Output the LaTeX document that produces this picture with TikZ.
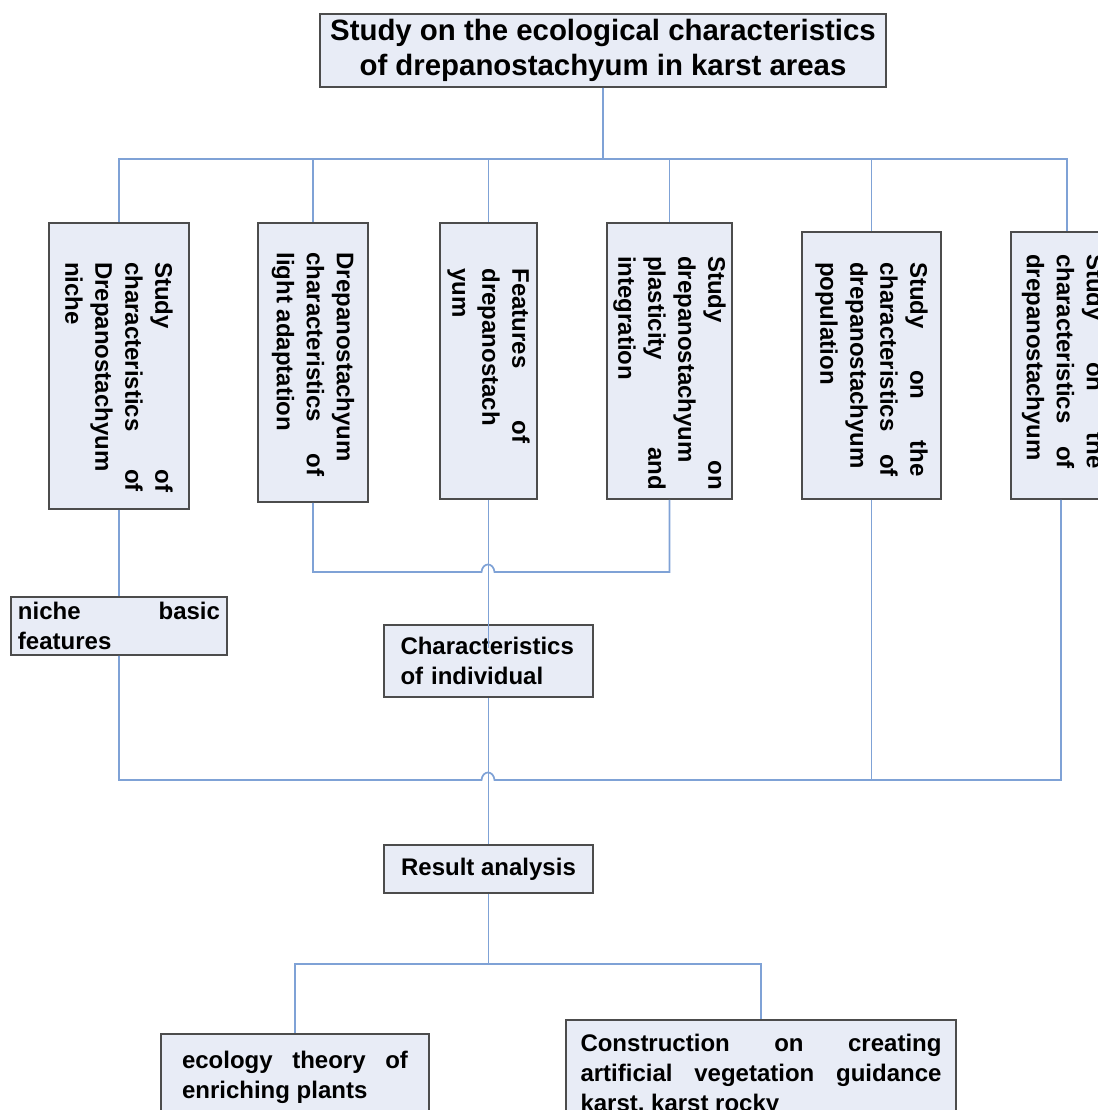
\documentclass[tikz,border=0pt]{standalone}
\usepackage{fontspec}
\setmainfont{Liberation Sans}
\usepackage{graphicx}
\usepackage{xcolor}
\usepackage{tikz}
\usetikzlibrary{positioning}
\definecolor{boxfill}{HTML}{E8ECF6}
\definecolor{linkblue}{HTML}{7FA2D6}
\tolerance=10000 \hbadness=10000 \hyphenpenalty=10000
\newcommand{\vlabel}[3][0pt]{\rotatebox{-90}{\hspace*{#1}\parbox{#2}{#3}}}

\begin{document}
\begin{tikzpicture}[x=0.5pt,y=-0.5pt,
		  box/.style={draw=black!70, line width=0.8pt, fill=boxfill, inner sep=0pt,
		    font=\bfseries\fontsize{12}{15}\selectfont},
		  hbox/.style={box, align=justify, inner xsep=3pt, inner ysep=6pt},
		  link/.style={draw=linkblue, line width=0.85pt}]
		  \useasboundingbox (0,0) rectangle (1098,1110);
		  \clip (0,0) rectangle (1098,1110);
		  \node[box, minimum width=283pt, minimum height=36.5pt, align=center,
		    font=\bfseries\fontsize{14.7}{17.5}\selectfont] (top) at (603,50.5)
		    {Study on the ecological characteristics\\of drepanostachyum in karst areas};
		  \node[box, minimum width=70pt, minimum height=143pt] (b1) at (119,366)
		    {\vlabel[11pt]{115pt}{Study of\linebreak characteristics of\linebreak Drepanostachyum\linebreak niche}};
		  \node[box, minimum width=55pt, minimum height=139.5pt] (b2) at (313,362.5)
		    {\vlabel[2pt]{112pt}{Drepanostachyum\linebreak characteristics of\linebreak light adaptation}};
		  \node[box, minimum width=48.5pt, minimum height=138pt] (b3) at (488.5,361)
		    {\vlabel[-5pt]{87.5pt}{Features of\linebreak drepanostach\linebreak yum}};
		  \node[box, minimum width=62.5pt, minimum height=138pt] (b4) at (669.5,361)
		    {\vlabel[12pt]{117pt}{Study on\linebreak drepanostachyum\linebreak plasticity and\linebreak integration}};
		  \node[box, minimum width=69.5pt, minimum height=133.5pt] (b5) at (871.5,365.5)
		    {\vlabel[4pt]{107.5pt}{Study on the\linebreak characteristics of\linebreak drepanostachyum\linebreak population}};
		  \node[box, minimum width=52pt, minimum height=133.5pt] (b6) at (1063,365.5)
		    {\vlabel[-4pt]{107.5pt}{Study on the\linebreak characteristics of\linebreak drepanostachyum}};
		  \node[box, minimum width=108pt, minimum height=29pt, text width=101pt, align=justify] (niche) at (119,626)
		    {niche basic\linebreak features};
		  \node[box, minimum width=104.5pt, minimum height=36pt, text width=88pt, align=left] (char) at (488.5,661)
		    {Characteristics\\of individual};
		  \node[box, minimum width=104.5pt, minimum height=24pt] (result) at (488.5,869) {Result analysis};
		  \node[hbox, anchor=north, inner ysep=8.5pt, minimum width=134pt, text width=113pt, text depth=30pt] (r1) at (295,1033)
		    {ecology theory of\linebreak enriching plants};
		  \node[hbox, anchor=north, inner ysep=7pt, minimum width=195pt, text width=180.5pt, text depth=45pt] (r2) at (761,1019)
		    {Construction on creating\linebreak artificial vegetation guidance\linebreak karst, karst rocky};
		  \coordinate (hop1) at (488,572);
		  \coordinate (hop2) at (488,780);
		  \foreach \b in {b1,b2,b3,b4,b5}
		    \draw[link] (top.south) -- ++(0,71) -| (\b.north);
		  \draw[link] (top.south) -- ++(0,71) -| ([xshift=2pt]b6.north);
		  \draw[link] (b1.south) -- (niche.north);
		  \draw[link] (b2.south) |- ([xshift=-3.25pt]hop1) .. controls +(1,-10) and +(-1,-10) .. ([xshift=3.25pt]hop1) -| (b4.south);
		  \draw[link] (b3.south) -- ([yshift=-12pt]char.north);
		  \draw[link] (char.south) -- (result.north);
		  \draw[link] (niche.south) |- ([xshift=-3.25pt]hop2) .. controls +(1,-10) and +(-1,-10) .. ([xshift=3.25pt]hop2) -| ([xshift=-1pt]b6.south);
		  \draw[link] (b5.south) -- (b5.south |- hop2);
		  \draw[link] (result.south) -- ++(0,70) -| (r1.north);
		  \draw[link] (result.south) -- ++(0,70) -| (r2.north);
		\end{tikzpicture}
\end{document}
